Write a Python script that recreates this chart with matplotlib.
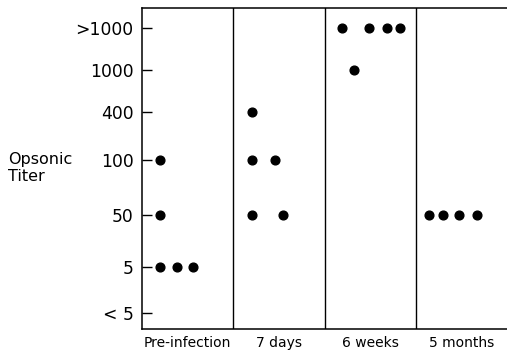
import matplotlib
matplotlib.use("Agg")
import matplotlib.pyplot as plt

# data
groups = ["Pre-infection", "7 days", "6 weeks", "5 months"]
levels = ["< 5", "5", "50", "100", "400", "1000", ">1000"]

pre_titers = ["100", "50", "5", "5", "5"]
day7_titers = ["400", "100", "100", "50", "50"]
week6_titers = [">1000", "1000", ">1000", ">1000", ">1000"]
month5_titers = ["50", "50", "50", "50"]

# horizontal spread of the dots inside each panel (fraction of panel width)
pre_offsets = [0.20, 0.20, 0.20, 0.38, 0.56]
day7_offsets = [0.20, 0.20, 0.46, 0.20, 0.54]
week6_offsets = [0.19, 0.32, 0.49, 0.68, 0.83]
month5_offsets = [0.14, 0.30, 0.47, 0.67]

# the printed axis is not evenly spaced
level_pos = [16, 62, 114, 169, 217, 259, 301]
ypos = dict(zip(levels, level_pos))

fig = plt.figure(figsize=(5.07, 3.57), dpi=100)
ax = fig.add_axes([142 / 507, 1 - 329 / 357, 365 / 507, 321 / 357])

all_titers = [pre_titers, day7_titers, week6_titers, month5_titers]
all_offsets = [pre_offsets, day7_offsets, week6_offsets, month5_offsets]
for i in range(len(groups)):
    xs = [i + o for o in all_offsets[i]]
    ys = [ypos[t] for t in all_titers[i]]
    ax.plot(xs, ys, 'o', color='black', markersize=6.3, linestyle='none')

for i in range(1, len(groups)):
    ax.axvline(i, color='black', linewidth=1.0)

ax.set_xlim(0, 4)
ax.set_ylim(0, 321)

ax.set_yticks(level_pos)
ax.set_yticklabels(levels, fontsize=12.3)
ax.tick_params(axis='y', direction='in', length=7, width=1.0, pad=6)

ax.set_xticks([i + 0.5 for i in range(len(groups))])
ax.set_xticklabels(groups, fontsize=10)
ax.tick_params(axis='x', length=0, pad=5)

ax.spines['right'].set_visible(False)
for s in ['left', 'top', 'bottom']:
    ax.spines[s].set_linewidth(1.1)

fig.text(8 / 507, 1 - 168 / 357, "Opsonic\nTiter", fontsize=11.5,
         ha='left', va='center', linespacing=1.2)

fig.savefig("out.png", dpi=100)
